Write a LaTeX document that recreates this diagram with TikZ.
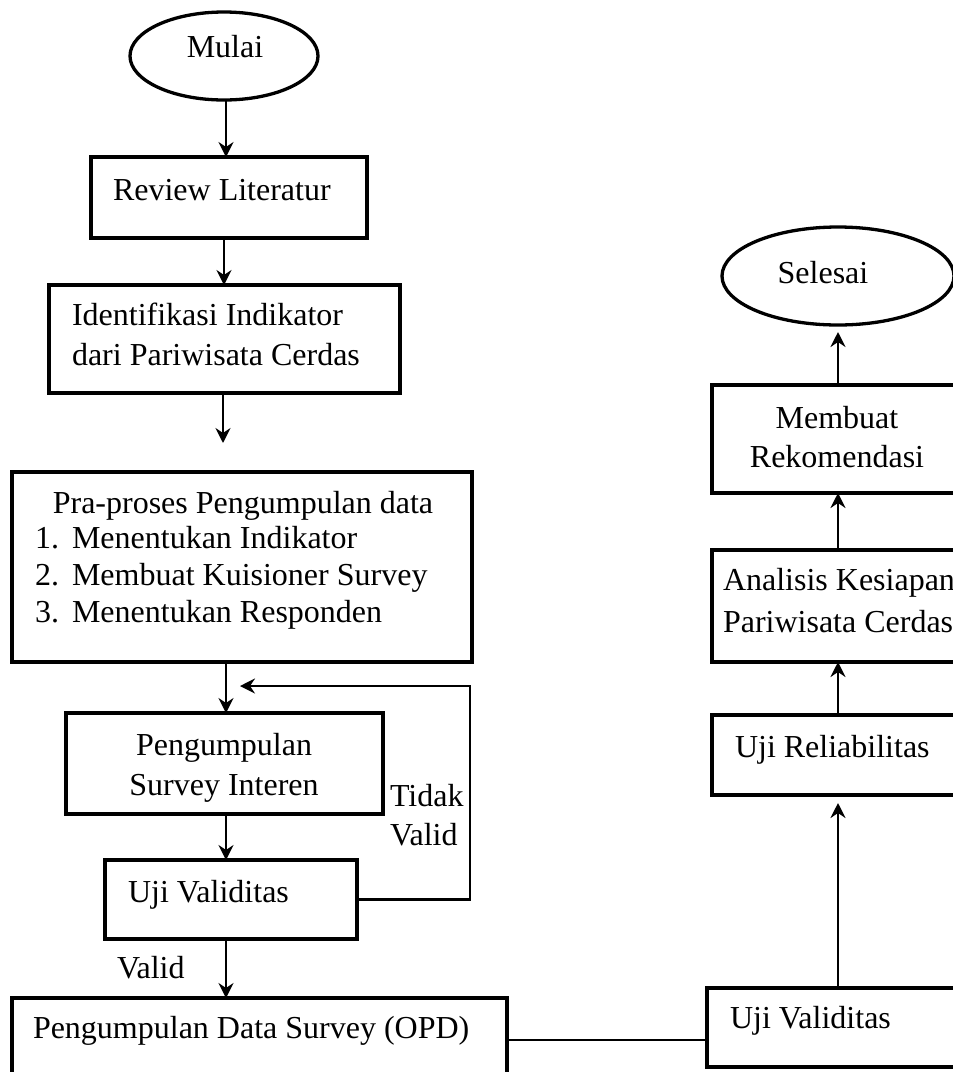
\documentclass[tikz,border=0pt]{standalone}
\usepackage{fontspec}
\setmainfont{Liberation Serif}
\usetikzlibrary{shapes.geometric,arrows.meta}
\begin{document}
\begin{tikzpicture}[x=1pt,y=-1pt,
  box/.style={draw,line width=3.3pt,rectangle,inner sep=0pt,outer sep=0pt},
  oval/.style={draw,line width=3.3pt,ellipse,inner sep=0pt,outer sep=0pt},
  txt/.style={inner sep=0pt,outer sep=0pt,font=\fontsize{32}{38}\selectfont},
  arr/.style={line width=2.5pt,-{Stealth[length=15pt,width=15pt,inset=5pt]}},
  conn/.style={line width=2.5pt}]
\useasboundingbox (0,0) rectangle (953,1072);
\clip (0,0) rectangle (953,1072);

% left column: shapes
\node[oval,minimum width=188pt,minimum height=88pt] (mulai) at (224,56) {};
\node[box,minimum width=276pt,minimum height=81pt] (review) at (229,197.5) {};
\node[box,minimum width=351pt,minimum height=108pt] (ident) at (224.5,339) {};
\node[box,minimum width=460pt,minimum height=190pt] (prap) at (242,567) {};
\node[box,minimum width=317pt,minimum height=101pt] (survint) at (224.5,763.5) {};
\node[box,minimum width=252pt,minimum height=79pt] (ujival) at (231,899.5) {};
\node[box,minimum width=495pt,minimum height=100pt] (opd) at (259.5,1048) {};

% right column: shapes
\node[oval,minimum width=232pt,minimum height=98pt] (selesai) at (838,276) {};
\node[box,minimum width=252pt,minimum height=108pt] (rekom) at (838,439) {};
\node[box,minimum width=252pt,minimum height=112pt] (analisis) at (838,606) {};
\node[box,minimum width=252pt,minimum height=80pt] (reliab) at (838,755) {};
\node[box,minimum width=262pt,minimum height=79pt] (ujival2) at (838,1027.5) {};

% texts
\node[txt,anchor=base] (tmulai) at (225,57) {Mulai};
\node[txt,anchor=base west] (treview) at (113,200) {Review Literatur};
\node[txt,anchor=base west] (tident1) at (72,325) {Identifikasi Indikator};
\node[txt,anchor=base west] (tident2) at (72,365) {dari Pariwisata Cerdas};
\node[txt,anchor=base] (tprap0) at (243,513) {Pra-proses Pengumpulan data};
\node[txt,anchor=base west] (tn1) at (35,548) {1.};
\node[txt,anchor=base west] (tprap1) at (72,548) {Menentukan Indikator};
\node[txt,anchor=base west] (tn2) at (35,585) {2.};
\node[txt,anchor=base west] (tprap2) at (72,585) {Membuat Kuisioner Survey};
\node[txt,anchor=base west] (tn3) at (35,622) {3.};
\node[txt,anchor=base west] (tprap3) at (72,622) {Menentukan Responden};
\node[txt,anchor=base] (tsurv1) at (224,755) {Pengumpulan};
\node[txt,anchor=base] (tsurv2) at (224,795) {Survey Interen};
\node[txt,anchor=base west] (ttidak1) at (390,806) {Tidak};
\node[txt,anchor=base west] (ttidak2) at (390,845) {Valid};
\node[txt,anchor=base west] (tujival) at (128,902) {Uji Validitas};
\node[txt,anchor=base west] (tvalid) at (117,978) {Valid};
\node[txt,anchor=base west] (topd) at (33,1038) {Pengumpulan Data Survey (OPD)};
\node[txt,anchor=base] (tselesai) at (823,283) {Selesai};
\node[txt,anchor=base] (trekom1) at (837,428) {Membuat};
\node[txt,anchor=base] (trekom2) at (837,467) {Rekomendasi};
\node[txt,anchor=base west] (tanal1) at (723,590) {Analisis Kesiapan};
\node[txt,anchor=base west] (tanal2) at (723,632) {Pariwisata Cerdas};
\node[txt,anchor=base west] (treliab) at (735,757) {Uji Reliabilitas};
\node[txt,anchor=base west] (tujival2) at (730,1028) {Uji Validitas};

% free ends of connectors
\coordinate (identend) at (223,443);
\coordinate (loopR1) at (470,899.5);
\coordinate (loopR2) at (470,686);
\coordinate (loopend) at (240,686);

% left column flow
\draw[arr] (mulai.south -| 226,0) -- (review.north -| 226,0);
\draw[arr] (review.south -| 224,0) -- (ident.north -| 224,0);
\draw[arr] (ident.south -| identend) -- (identend);
\draw[arr] (prap.south -| 226,0) -- (survint.north -| 226,0);
\draw[arr] (survint.south -| 226,0) -- (ujival.north -| 226,0);
\draw[arr] (ujival.south -| 226,0) -- (opd.north -| 226,0);
\draw[arr] (ujival.east) -- (loopR1) -- (loopR2) -- (loopend);

% bridge to the right column
\draw[conn] (opd.east |- 0,1040) -- (ujival2.west |- 0,1040);

% right column flow
\draw[arr,shorten >=8pt] (ujival2.north) -- (reliab.south);
\draw[arr] (reliab.north) -- (analisis.south);
\draw[arr] (analisis.north) -- (rekom.south);
\draw[arr,shorten >=7pt] (rekom.north) -- (selesai.south);
\end{tikzpicture}
\end{document}
